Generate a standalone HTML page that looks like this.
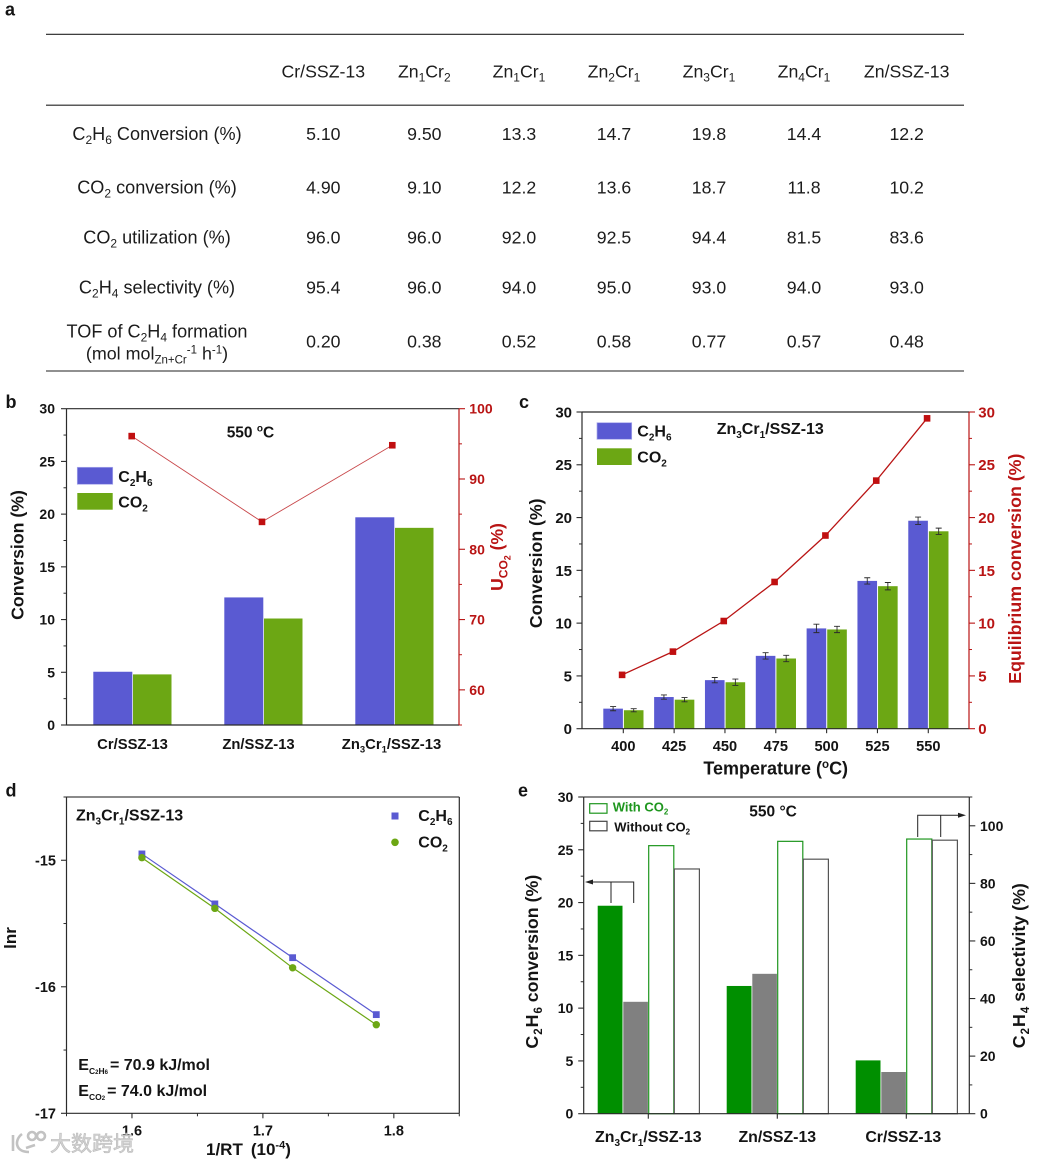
<!DOCTYPE html>
<html lang="en">
<head>
<meta charset="utf-8">
<title>Zn-Cr/SSZ-13 catalyst performance figure</title>
<style>
html,body{margin:0;padding:0;background:#fff;}
svg{display:block;font-family:"Liberation Sans",sans-serif;filter:blur(.3px);}
.b{font-weight:bold;fill:#141414;}
.r{fill:#1c1c1c;font-size:17.7px;}
.red{font-weight:bold;fill:#b91414;}
.green{font-weight:bold;fill:#1e961e;}
</style>
</head>
<body>
<svg id="fig" xmlns="http://www.w3.org/2000/svg" width="1041" height="1162" viewBox="0 0 1041 1162">
  <rect x="0" y="0" width="1041" height="1162" fill="#fff"/>

  <text class="b" x="5" y="15.7" font-size="18">a</text>
  <text class="b" x="5.5" y="408" font-size="18">b</text>
  <text class="b" x="519" y="408" font-size="18">c</text>
  <text class="b" x="5.5" y="796.7" font-size="18">d</text>
  <text class="b" x="518" y="796.7" font-size="18">e</text>

  <g id="tbl">
    <line x1="46" x2="964" y1="34.3" y2="34.3" stroke="#222" stroke-width="1.1"/>
    <line x1="46" x2="964" y1="105.2" y2="105.2" stroke="#222" stroke-width="1.1"/>
    <line x1="46" x2="964" y1="371" y2="371" stroke="#222" stroke-width="1.1"/>
    <text class="r" x="323.3" y="77.3" text-anchor="middle">Cr/SSZ-13</text>
    <text class="r" x="424.3" y="77.3" text-anchor="middle">Zn<tspan dy="4" font-size="12">1</tspan><tspan dy="-4">Cr</tspan><tspan dy="4" font-size="12">2</tspan></text>
    <text class="r" x="519" y="77.3" text-anchor="middle">Zn<tspan dy="4" font-size="12">1</tspan><tspan dy="-4">Cr</tspan><tspan dy="4" font-size="12">1</tspan></text>
    <text class="r" x="614" y="77.3" text-anchor="middle">Zn<tspan dy="4" font-size="12">2</tspan><tspan dy="-4">Cr</tspan><tspan dy="4" font-size="12">1</tspan></text>
    <text class="r" x="709" y="77.3" text-anchor="middle">Zn<tspan dy="4" font-size="12">3</tspan><tspan dy="-4">Cr</tspan><tspan dy="4" font-size="12">1</tspan></text>
    <text class="r" x="804" y="77.3" text-anchor="middle">Zn<tspan dy="4" font-size="12">4</tspan><tspan dy="-4">Cr</tspan><tspan dy="4" font-size="12">1</tspan></text>
    <text class="r" x="906.7" y="77.3" text-anchor="middle">Zn/SSZ-13</text>
    <text class="r" x="157" y="140" text-anchor="middle" style="font-size:18.1px">C<tspan dy="4" font-size="12">2</tspan><tspan dy="-4">H</tspan><tspan dy="4" font-size="12">6</tspan><tspan dy="-4"> Conversion (%)</tspan></text>
    <text class="r" x="157" y="193.3" text-anchor="middle" style="font-size:18.1px">CO<tspan dy="4" font-size="12">2</tspan><tspan dy="-4"> conversion (%)</tspan></text>
    <text class="r" x="157" y="243.3" text-anchor="middle" style="font-size:18.1px">CO<tspan dy="4" font-size="12">2</tspan><tspan dy="-4"> utilization (%)</tspan></text>
    <text class="r" x="157" y="293.3" text-anchor="middle" style="font-size:18.1px">C<tspan dy="4" font-size="12">2</tspan><tspan dy="-4">H</tspan><tspan dy="4" font-size="12">4</tspan><tspan dy="-4"> selectivity (%)</tspan></text>
    <text class="r" x="157" y="337.3" text-anchor="middle" style="font-size:18.1px">TOF of C<tspan dy="4" font-size="12">2</tspan><tspan dy="-4">H</tspan><tspan dy="4" font-size="12">4</tspan><tspan dy="-4"> formation</tspan></text>
    <text class="r" x="157" y="359.3" text-anchor="middle" style="font-size:17.9px">(mol mol<tspan dy="4" font-size="11.5">Zn+Cr</tspan><tspan dy="-10" font-size="11.5">-1</tspan><tspan dy="6"> h</tspan><tspan dy="-6" font-size="11.5">-1</tspan><tspan dy="6">)</tspan></text>
  </g>

  <g id="pb">
    <text class="b" font-size="17.7" text-anchor="middle" transform="translate(23.5 555) rotate(-90)">Conversion (%)</text>
    <text class="red" font-size="17.5" text-anchor="middle" transform="translate(503 557) rotate(-90)">U<tspan dy="4.5" font-size="12">CO</tspan><tspan dy="3" font-size="9">2</tspan><tspan dy="-7.5"> (%)</tspan></text>
    <text class="b" x="226.7" y="437.7" font-size="15.5">550 <tspan dy="-6" font-size="10">o</tspan><tspan dy="6">C</tspan></text>
    <rect x="77.3" y="467.3" width="35.4" height="17" fill="#5a5ad2" stroke="#a9a9ea" stroke-width=".7"/>
    <rect x="77.3" y="493" width="35.4" height="16.7" fill="#6ca714"/>
    <text class="b" x="118.3" y="482" font-size="16">C<tspan dy="4" font-size="10">2</tspan><tspan dy="-4">H</tspan><tspan dy="4" font-size="10">6</tspan></text>
    <text class="b" x="118.3" y="507.3" font-size="16">CO<tspan dy="4" font-size="10">2</tspan></text>
  </g>

  <g id="pc">
    <text class="b" font-size="17.7" text-anchor="middle" transform="translate(542 563.3) rotate(-90)">Conversion (%)</text>
    <text class="red" font-size="17.8" text-anchor="middle" transform="translate(1021 568.7) rotate(-90)">Equilibrium conversion (%)</text>
    <text class="b" font-size="18" text-anchor="middle" x="775.7" y="774.3">Temperature (<tspan dy="-6.5" font-size="11.5">o</tspan><tspan dy="6.5">C)</tspan></text>
    <text class="b" x="716.7" y="434" font-size="16">Zn<tspan dy="4" font-size="10">3</tspan><tspan dy="-4">Cr</tspan><tspan dy="4" font-size="10">1</tspan><tspan dy="-4">/SSZ-13</tspan></text>
    <rect x="597" y="422.7" width="34.7" height="16.6" fill="#5a5ad2" stroke="#a9a9ea" stroke-width=".7"/>
    <rect x="597" y="448.3" width="34.7" height="16.7" fill="#6ca714"/>
    <text class="b" x="637.3" y="436.7" font-size="16">C<tspan dy="4" font-size="10">2</tspan><tspan dy="-4">H</tspan><tspan dy="4" font-size="10">6</tspan></text>
    <text class="b" x="637.3" y="462.3" font-size="16">CO<tspan dy="4" font-size="10">2</tspan></text>
  </g>

  <g id="pd">
    <text class="b" font-size="17" text-anchor="middle" transform="translate(16 938) rotate(-90)">lnr</text>
    <text class="b" font-size="17" x="206" y="1155">1/RT<tspan dx="8">(10</tspan><tspan dy="-6.5" font-size="11">-4</tspan><tspan dy="6.5">)</tspan></text>
    <text class="b" x="76" y="820.7" font-size="16">Zn<tspan dy="4" font-size="10">3</tspan><tspan dy="-4">Cr</tspan><tspan dy="4" font-size="10">1</tspan><tspan dy="-4">/SSZ-13</tspan></text>
    <rect x="391.5" y="812.5" width="7" height="7" fill="#5a5ad2"/>
    <circle cx="395" cy="842.3" r="3.8" fill="#6ca714"/>
    <text class="b" x="418.3" y="821" font-size="16">C<tspan dy="4" font-size="10">2</tspan><tspan dy="-4">H</tspan><tspan dy="4" font-size="10">6</tspan></text>
    <text class="b" x="418.3" y="847.3" font-size="16">CO<tspan dy="4" font-size="10">2</tspan></text>
    <text class="b" x="78.3" y="1070" font-size="16">E<tspan dy="4" font-size="8.5">C</tspan><tspan font-size="6">2</tspan><tspan font-size="8.5">H</tspan><tspan font-size="6">6</tspan><tspan dy="-4" dx="2">= 70.9 kJ/mol</tspan></text>
    <text class="b" x="78.3" y="1096" font-size="16">E<tspan dy="4" font-size="8.5">CO</tspan><tspan font-size="6">2</tspan><tspan dy="-4" dx="2">= 74.0 kJ/mol</tspan></text>
  </g>

  <g id="pe">
    <text class="b" font-size="17.8" text-anchor="middle" transform="translate(538 961.7) rotate(-90)">C<tspan dy="4" dx="1" font-size="11.5">2</tspan><tspan dy="-4" dx="1">H</tspan><tspan dy="4" dx="1" font-size="11.5">6</tspan><tspan dy="-4"> conversion (%)</tspan></text>
    <text class="b" font-size="17.8" text-anchor="middle" transform="translate(1025 965.7) rotate(-90)">C<tspan dy="4" dx="1" font-size="11.5">2</tspan><tspan dy="-4" dx="1">H</tspan><tspan dy="4" dx="1" font-size="11.5">4</tspan><tspan dy="-4"> selectivity (%)</tspan></text>
    <text class="b" x="749.3" y="816.7" font-size="15.5">550 °C</text>
    <rect x="589.7" y="803.7" width="17.3" height="9.5" fill="#fff" stroke="#1e961e" stroke-width="1.2"/>
    <rect x="589.7" y="821.3" width="17.3" height="9.5" fill="#fff" stroke="#444" stroke-width="1.2"/>
    <text class="green" x="612.7" y="811.7" font-size="13">With CO<tspan dy="3" font-size="8">2</tspan></text>
    <text class="b" x="614.3" y="831.7" font-size="13">Without CO<tspan dy="3" font-size="8">2</tspan></text>
  </g>

  <g id="wm" fill="none" stroke="#bcbcbc" stroke-width="2.6" opacity=".9">
    <path d="M13 1135 L13 1151 M22 1134 C14 1140 15 1152 29 1152 M35 1145 L26 1148"/>
    <circle cx="32" cy="1136" r="4"/>
    <circle cx="41" cy="1136" r="4"/>
    <text x="50" y="1151" font-size="21" fill="#d0d0d0" stroke="#b4b4b4" stroke-width=".6" style="font-family:'Liberation Sans','Noto Sans CJK SC',sans-serif">大数跨境</text>
  </g>
</svg>

<script>
/* ---------- table values ---------- */
const tableRowKeys = ['c2h6-conversion','co2-conversion','co2-utilization','c2h4-selectivity','tof'];
const tableColKeys = ['cr-ssz-13','zn1cr2','zn1cr1','zn2cr1','zn3cr1','zn4cr1','zn-ssz-13'];
const tableC2H6Conversion = ['5.10','9.50','13.3','14.7','19.8','14.4','12.2'];
const tableCO2Conversion = ['4.90','9.10','12.2','13.6','18.7','11.8','10.2'];
const tableCO2Utilization = ['96.0','96.0','92.0','92.5','94.4','81.5','83.6'];
const tableC2H4Selectivity = ['95.4','96.0','94.0','95.0','93.0','94.0','93.0'];
const tableTOF = ['0.20','0.38','0.52','0.58','0.77','0.57','0.48'];

/* ---------- chart b ---------- */
const bCategories = ['Cr/SSZ-13','Zn/SSZ-13','Zn3Cr1/SSZ-13'];
const bC2H6 = [5.05,12.1,19.7];
const bCO2 = [4.8,10.1,18.7];
const bUtilization = [96.1,83.9,94.8];
const bLeftTicks = [0,5,10,15,20,25,30];
const bLeftMinorTicks = [2.5,7.5,12.5,17.5,22.5,27.5];
const bRightTicks = [60,70,80,90,100];
const bRightMinorTicks = [55,65,75,85,95];

/* ---------- chart c ---------- */
const cTemperatures = ['400','425','450','475','500','525','550'];
const cC2H6 = [1.9,3.0,4.6,6.9,9.5,14.0,19.7];
const cC2H6Err = [0.2,0.2,0.25,0.3,0.4,0.3,0.35];
const cCO2 = [1.75,2.75,4.4,6.65,9.4,13.5,18.7];
const cCO2Err = [0.15,0.2,0.3,0.3,0.3,0.35,0.3];
const cEquilibrium = [5.1,7.3,10.2,13.9,18.3,23.5,29.4];
const cYTicks = [0,5,10,15,20,25,30];
const cYMinorTicks = [2.5,7.5,12.5,17.5,22.5,27.5];

/* ---------- chart d ---------- */
const dX = [1.6076,1.6633,1.7227,1.7866];
const dC2H6 = [-14.95,-15.345,-15.77,-16.22];
const dCO2 = [-14.98,-15.38,-15.85,-16.30];
const dYTicks = [-15,-16,-17];
const dYMinorTicks = [-14.5,-15.5,-16.5];
const dXTicks = [1.6,1.7,1.8];
const dXMinorTicks = [1.55,1.65,1.75,1.85];

/* ---------- chart e ---------- */
const eCategories = ['Zn3Cr1/SSZ-13','Zn/SSZ-13','Cr/SSZ-13'];
const eConvWith = [19.7,12.1,5.05];
const eConvWithout = [10.6,13.25,3.95];
const eSelWith = [93.1,94.6,95.4];
const eSelWithout = [85,88.4,95];
const eLeftTicks = [0,5,10,15,20,25,30];
const eLeftMinorTicks = [2.5,7.5,12.5,17.5,22.5,27.5];
const eRightTicks = [0,20,40,60,80,100];
const eRightMinorTicks = [10,30,50,70,90,110];

/* ---------- layout constants (not data) ---------- */
const labelNudgeB = [0,-5,-3];
const labelNudgeE = [0,0,-3];
const NS = 'http://www.w3.org/2000/svg';
const DARK = '#2b2b2b', RED = '#b91414', BLUE = '#5a5ad2', GREEN = '#6ca714', DGREEN = '#008f00', GRAY = '#808080';

function make(tag, attrs, parent) {
  const el = document.createElementNS(NS, tag);
  for (const k in attrs) el.setAttribute(k, attrs[k]);
  parent.appendChild(el);
  return el;
}
function linear(d0, d1, r0, r1) {
  return v => r0 + (v - d0) * (r1 - r0) / (d1 - d0);
}
/* renders "Zn3Cr1/SSZ-13" with letter-following digits as subscripts */
function richText(el, str, subSize, drop) {
  const parts = str.split(/(?<=[A-Za-z])(\d)/);
  let shifted = false;
  parts.forEach((p, i) => {
    if (!p) return;
    const sp = document.createElementNS(NS, 'tspan');
    const isSub = i % 2 === 1;
    if (isSub) sp.setAttribute('font-size', subSize);
    if (isSub !== shifted) { sp.setAttribute('dy', isSub ? drop : -drop); shifted = isSub; }
    sp.textContent = p;
    el.appendChild(sp);
  });
}
function hTicks(g, scale, values, x0, x1, color, width) {
  values.forEach(v => {
    const tick = make('line', {x1:x0, x2:x1, y1:scale(v), y2:scale(v), stroke:color, 'stroke-width':width}, g);
    
    
  });
}
function vTicks(g, scale, values, y0, y1, color, width) {
  values.forEach(v => {
    const tick = make('line', {x1:scale(v), x2:scale(v), y1:y0, y2:y1, stroke:color, 'stroke-width':width}, g);
    
    
  });
}
function yLabels(g, scale, values, x, anchor, size, cls) {
  values.forEach(v => {
    const lab = make('text', {x:x, y:scale(v)+size*0.36, 'text-anchor':anchor, 'font-size':size, class:cls}, g);
    lab.textContent = String(v);
    
    
  });
}
function frameLine(g, x1, y1, x2, y2, color) {
  const ln = make('line', {x1:x1, y1:y1, x2:x2, y2:y2, stroke:color, 'stroke-width':1.2}, g);
  
  
}

/* ---------- table ---------- */
(function () {
  const g = document.getElementById('tbl');
  const cols = [323.3,424.3,519,614,709,804,906.7];
  const rowBase = [140,193.3,243.3,293.3,347.7];
  const rows = [tableC2H6Conversion, tableCO2Conversion, tableCO2Utilization, tableC2H4Selectivity, tableTOF];
  rows.forEach((row, r) => {
    row.forEach((val, c) => {
      const t = make('text', {x:cols[c], y:rowBase[r], 'text-anchor':'middle', class:'r'}, g);
      t.textContent = val;
      
      
    });
  });
})();

/* ---------- chart b ---------- */
(function () {
  const g = document.getElementById('pb');
  const L = 66.5, R = 459, T = 408.7, B = 725;
  const y = linear(0, 30, B, T);
  const yR = linear(55, 100, B, T);
  const cx = i => 132.5 + i * 131;
  const pointX = i => 131.7 + i * 130.3;
  bCategories.forEach((cat, i) => {
    const bar1 = make('rect', {x:cx(i)-39.2, y:y(bC2H6[i]), width:39, height:B-y(bC2H6[i]), fill:BLUE}, g);
    
    
    const bar2 = make('rect', {x:cx(i)+0.5, y:y(bCO2[i]), width:38.5, height:B-y(bCO2[i]), fill:GREEN}, g);
    
    
    const lab = make('text', {x:cx(i)+labelNudgeB[i], y:749, 'text-anchor':'middle', 'font-size':14.8, class:'b'}, g);
    richText(lab, cat, 9.5, 3.5);
    
    
  });
  frameLine(g, L, T, R, T, DARK);
  frameLine(g, L, B, R, B, DARK);
  frameLine(g, L, T, L, B, DARK);
  frameLine(g, R, T, R, B, RED);
  hTicks(g, y, bLeftTicks, L-5.5, L, DARK, 1.1);
  hTicks(g, y, bLeftMinorTicks, L-3, L, DARK, 1);
  hTicks(g, yR, bRightTicks, R, R+6, RED, 1.1);
  hTicks(g, yR, bRightMinorTicks, R, R+3, RED, 1);
  yLabels(g, y, bLeftTicks, 55, 'end', 14, 'b');
  yLabels(g, yR, bRightTicks, 469.3, 'start', 14, 'red');
  const line = make('polyline', {points:bUtilization.map((v,i)=>pointX(i)+','+yR(v)).join(' '), fill:'none', stroke:'#c8474a', 'stroke-width':0.9}, g);
  
  
  bUtilization.forEach((v, i) => {
    const pt = make('rect', {x:pointX(i)-3.3, y:yR(v)-3.3, width:6.6, height:6.6, fill:'#c00f10'}, g);
    
    
  });
})();

/* ---------- chart c ---------- */
(function () {
  const g = document.getElementById('pc');
  const L = 582, R = 969, T = 412, B = 728.7;
  const y = linear(0, 30, B, T);
  const cx = i => 623.3 + i * 50.83;
  function errorBar(x, v, e) {
    const path = 'M'+x+' '+y(v+e)+'V'+y(v-e)+'M'+(x-3)+' '+y(v+e)+'h6M'+(x-3)+' '+y(v-e)+'h6';
    const eb = make('path', {d:path, fill:'none', stroke:'#2b2b2b', 'stroke-width':0.9}, g);
    
    
  }
  cTemperatures.forEach((temp, i) => {
    const bar1 = make('rect', {x:cx(i)-20, y:y(cC2H6[i]), width:19.6, height:B-y(cC2H6[i]), fill:BLUE}, g);
    
    
    const bar2 = make('rect', {x:cx(i)+0.6, y:y(cCO2[i]), width:19.6, height:B-y(cCO2[i]), fill:GREEN}, g);
    
    
    errorBar(cx(i)-10.2, cC2H6[i], cC2H6Err[i]);
    errorBar(cx(i)+10.4, cCO2[i], cCO2Err[i]);
    const lab = make('text', {x:cx(i), y:751, 'text-anchor':'middle', 'font-size':14.6, class:'b'}, g);
    lab.textContent = temp;
    
    
  });
  frameLine(g, L, T, R, T, DARK);
  frameLine(g, L, B, R, B, DARK);
  frameLine(g, L, T, L, B, DARK);
  frameLine(g, R, T, R, B, RED);
  const ix = v => cx(v);
  vTicks(g, ix, cTemperatures.map((t,i)=>i), B, B+4.5, DARK, 1.1);
  hTicks(g, y, cYTicks, L-5.5, L, DARK, 1.1);
  hTicks(g, y, cYMinorTicks, L-3, L, DARK, 1);
  hTicks(g, y, cYTicks, R, R+6, RED, 1.1);
  hTicks(g, y, cYMinorTicks, R, R+3, RED, 1);
  yLabels(g, y, cYTicks, 572, 'end', 15, 'b');
  yLabels(g, y, cYTicks, 978.3, 'start', 15, 'red');
  const line = make('polyline', {points:cEquilibrium.map((v,i)=>(cx(i)-1.2)+','+y(v)).join(' '), fill:'none', stroke:'#b91414', 'stroke-width':1.3}, g);
  
  
  cEquilibrium.forEach((v, i) => {
    const pt = make('rect', {x:cx(i)-4.5, y:y(v)-3.3, width:6.6, height:6.6, fill:'#c00f10'}, g);
    
    
  });
})();

/* ---------- chart d ---------- */
(function () {
  const g = document.getElementById('pd');
  const L = 66.5, R = 459.3, T = 797, B = 1113.3;
  const x = linear(1.55, 1.85, L, R);
  const y = linear(-17, -14.5, B, T);
  frameLine(g, L, T, R, T, '#444');
  frameLine(g, L, B, R, B, DARK);
  frameLine(g, L, T, L, B, DARK);
  frameLine(g, R, T, R, B, DARK);
  hTicks(g, y, dYTicks, L-5.5, L, DARK, 1.1);
  hTicks(g, y, dYMinorTicks, L-3, L, DARK, 1);
  vTicks(g, x, dXTicks, B, B+5, DARK, 1.1);
  vTicks(g, x, dXMinorTicks, B, B+3, DARK, 1);
  yLabels(g, y, dYTicks, 56, 'end', 14.5, 'b');
  dXTicks.forEach(v => {
    const lab = make('text', {x:x(v), y:1135.7, 'text-anchor':'middle', 'font-size':14.5, class:'b'}, g);
    lab.textContent = v.toFixed(1);
    
    
  });
  const line1 = make('polyline', {points:dX.map((v,i)=>x(v)+','+y(dC2H6[i])).join(' '), fill:'none', stroke:BLUE, 'stroke-width':1.2}, g);
  
  
  const line2 = make('polyline', {points:dX.map((v,i)=>x(v)+','+y(dCO2[i])).join(' '), fill:'none', stroke:GREEN, 'stroke-width':1.2}, g);
  
  
  dX.forEach((v, i) => {
    const p1 = make('rect', {x:x(v)-3.4, y:y(dC2H6[i])-3.4, width:6.8, height:6.8, fill:BLUE}, g);
    
    
    const p2 = make('circle', {cx:x(v), cy:y(dCO2[i]), r:3.7, fill:GREEN}, g);
    
    
  });
})();

/* ---------- chart e ---------- */
(function () {
  const g = document.getElementById('pe');
  const L = 583.7, R = 969.3, T = 797, B = 1113.7;
  const y = linear(0, 30, B, T);
  const yR = linear(0, 110, B, T);
  const cx = i => 648.3 + i * 129;
  const W = 25.4;
  eCategories.forEach((cat, i) => {
    const c = cx(i);
    const b1 = make('rect', {x:c-50.6, y:y(eConvWith[i]), width:W-0.6, height:B-y(eConvWith[i]), fill:DGREEN}, g);
    
    
    const b2 = make('rect', {x:c-25, y:y(eConvWithout[i]), width:W-0.8, height:B-y(eConvWithout[i]), fill:GRAY}, g);
    
    
    const b3 = make('rect', {x:c+0.4, y:yR(eSelWith[i]), width:W-0.3, height:B-yR(eSelWith[i]), fill:'#fff', stroke:'#1e961e', 'stroke-width':1.2}, g);
    
    
    const b4 = make('rect', {x:c+26, y:yR(eSelWithout[i]), width:W-0.3, height:B-yR(eSelWithout[i]), fill:'#fff', stroke:'#555', 'stroke-width':1.2}, g);
    
    
    const lab = make('text', {x:c+labelNudgeE[i], y:1142, 'text-anchor':'middle', 'font-size':15.9, class:'b'}, g);
    richText(lab, cat, 10, 4);
    
    
  });
  frameLine(g, L, T, R, T, '#444');
  frameLine(g, L, B, R, B, DARK);
  frameLine(g, L, T, L, B, DARK);
  frameLine(g, R, T, R, B, DARK);
  vTicks(g, cx, eCategories.map((c,i)=>i), B, B+5, DARK, 1.1);
  hTicks(g, y, eLeftTicks, L-5.5, L, DARK, 1.1);
  hTicks(g, y, eLeftMinorTicks, L-3, L, DARK, 1);
  hTicks(g, yR, eRightTicks, R, R+6, DARK, 1.1);
  hTicks(g, yR, eRightMinorTicks, R, R+3, DARK, 1);
  yLabels(g, y, eLeftTicks, 573.3, 'end', 14, 'b');
  yLabels(g, yR, eRightTicks, 980, 'start', 14, 'b');
  const arrowL = make('path', {d:'M633.7 903V882H592M611 882V903', fill:'none', stroke:'#222', 'stroke-width':1}, g);
  
  
  const headL = make('polygon', {points:'585,882 593,879.5 593,884.5', fill:'#222'}, g);
  
  
  const arrowR = make('path', {d:'M917.7 837V815.3H960M940.7 815.3V837', fill:'none', stroke:'#222', 'stroke-width':1}, g);
  
  
  const headR = make('polygon', {points:'966,815.3 958,812.8 958,817.8', fill:'#222'}, g);
  
  
})();
document.getElementById('fig').appendChild(document.getElementById('wm'));
</script>
</body>
</html>
